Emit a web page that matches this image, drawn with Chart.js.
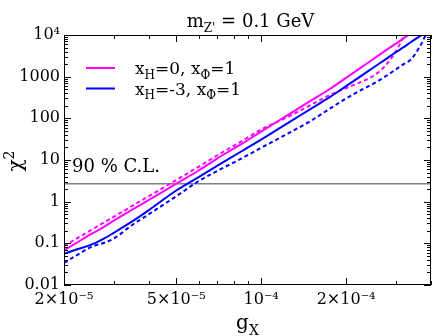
<!DOCTYPE html>
<html>
<head>
<meta charset="utf-8">
<script src="https://cdn.jsdelivr.net/npm/chart.js@4.4.1/dist/chart.umd.min.js"></script>
<style>
html,body{margin:0;padding:0;background:#fff}
</style>
</head>
<body>
<canvas id="chi2" width="436" height="336"></canvas>
<script>
// g_X values the curves were read at
const gx = [2e-5, 2.2e-5, 2.5e-5, 2.8e-5, 3e-5, 3.5e-5, 4e-5, 5e-5, 6e-5, 7e-5, 8.5e-5, 1e-4,
  1.25e-4, 1.5e-4, 1.75e-4, 2e-4, 2.25e-4, 2.5e-4, 2.75e-4, 3e-4, 3.2e-4, 3.4e-4, 3.6e-4, 3.8e-4, 4e-4]

// chi^2, x_H=0 x_Phi=1 (magenta) and x_H=-3 x_Phi=1 (blue); solid and dashed
const chiH0 = [0.068, 0.10, 0.168, 0.26, 0.35, 0.65, 1.1, 2.7, 5.6, 11, 24, 48,
  123, 265, 505, 935, 1620, 2660, 4160, 6200, 8300, 11200, 15000, 20000, 26000]
const chiH0dash = [0.086, 0.126, 0.21, 0.33, 0.43, 0.80, 1.36, 3.3, 6.9, 13, 28, 54,
  110, 210, 360, 530, 740, 1050, 1800, 4000, 9000, 16000, null, null, null]
const chiH3 = [0.056, 0.07, 0.093, 0.135, 0.178, 0.34, 0.63, 1.85, 3.9, 7.3, 16, 31,
  79, 169, 322, 593, 1020, 1660, 2560, 3850, 5100, 6800, 8800, 11300, 14500]
const chiH3dash = [0.034, 0.05, 0.082, 0.105, 0.13, 0.28, 0.5, 1.35, 3.1, 5.5, 10.8, 19.6,
  44, 87, 170, 300, 470, 680, 1000, 1490, 2000, 2600, 4500, 9000, 25000]

const clLevel = 2.71
const clText = "90 % C.L."
const titleText = "m_{Z'} = 0.1 GeV"
const legendText = ["x_H=0, x_Φ=1", "x_H=-3, x_Φ=1"]
const xTitle = "g_X"
const yTitle = "χ^2"

const xTickVals = [2e-5, 5e-5, 1e-4, 2e-4]
const xTickLabels = ["2×10⁻⁵", "5×10⁻⁵", "10⁻⁴", "2×10⁻⁴"]
const xMinor = [3e-5, 4e-5, 6e-5, 7e-5, 8e-5, 9e-5, 3e-4, 4e-4]
const yTickVals = [0.01, 0.1, 1, 10, 100, 1000, 1e4]
const yTickLabels = ["0.01", "0.1", "1", "10", "100", "1000", "10⁴"]

const MAG = "#ff00ff", BLU = "#0000ff"
const FONT = "'DejaVu Serif', 'Liberation Serif', serif"

function pts(arr){ return gx.map((g,i)=>({x:g, y:arr[i]})) }

function line(label, arr, color, dash){
  return {label, data: pts(arr), borderColor: color, backgroundColor: color, borderWidth: 2,
    borderDash: dash ? [4,3] : [], pointRadius: 0, cubicInterpolationMode: "monotone", fill: false}
}

// split "x_H=0" / "m_{Z'}" into runs of normal / sub / sup text
function runs(s){
  const out=[]; let i=0
  while(i<s.length){
    const c=s[i]
    if(c==="_"||c==="^"){
      let t
      if(s[i+1]==="{"){ const j=s.indexOf("}",i); t=s.slice(i+2,j); i=j+1 }
      else { t=s[i+1]; i+=2 }
      out.push({t, k:c})
    } else {
      let j=i; while(j<s.length && s[j]!=="_" && s[j]!=="^") j++
      out.push({t:s.slice(i,j), k:""}); i=j
    }
  }
  return out
}

function drawRich(ctx, s, x, y, size, align){
  const rs = runs(s)
  let w = 0
  rs.forEach(r=>{
    r.size = r.k ? Math.round(size*0.68) : size
    ctx.font = r.size+"px "+FONT
    r.w = ctx.measureText(r.t).width
    w += r.w
  })
  let cx = align==="center" ? x-w/2 : x
  ctx.textAlign = "left"
  rs.forEach(r=>{
    ctx.font = r.size+"px "+FONT
    const dy = r.k==="_" ? size*0.28 : r.k==="^" ? -size*0.42 : 0
    ctx.fillText(r.t, cx, y+dy)
    cx += r.w
  })
}

const isTick = (v, list) => list.findIndex(t => Math.abs(v/t-1) < 1e-6)

const decor = {
  id: "decor",
  afterDraw(chart){
    const ctx = chart.ctx, a = chart.chartArea
    const xs = chart.scales.x, ys = chart.scales.y
    ctx.save()
    ctx.strokeStyle = "#000"; ctx.lineWidth = 1
    ctx.strokeRect(a.left+0.5, a.top+0.5, a.right-a.left-1, a.bottom-a.top-1)

    // inward ticks on all four sides
    ctx.beginPath()
    const xt = (v,len)=>{ const p=Math.round(xs.getPixelForValue(v))+0.5
      ctx.moveTo(p,a.bottom); ctx.lineTo(p,a.bottom-len); ctx.moveTo(p,a.top); ctx.lineTo(p,a.top+len) }
    const yt = (v,len)=>{ const p=Math.round(ys.getPixelForValue(v))+0.5
      ctx.moveTo(a.left,p); ctx.lineTo(a.left+len,p); ctx.moveTo(a.right,p); ctx.lineTo(a.right-len,p) }
    xTickVals.forEach(v=>xt(v,7))
    xMinor.forEach(v=>xt(v,4))
    yTickVals.forEach(v=>yt(v,7))
    for(let d=0.01; d<1e4; d*=10) for(let k=2;k<=9;k++) yt(d*k,4)
    ctx.stroke()

    ctx.fillStyle = "#000"; ctx.textBaseline = "alphabetic"
    drawRich(ctx, titleText, (a.left+a.right)/2+3, 27, 18, "center")
    drawRich(ctx, clText, a.left+8, 172, 18, "left")
    drawRich(ctx, xTitle, (a.left+a.right)/2, 329, 20, "center")

    ctx.save()
    ctx.translate(22, 161); ctx.rotate(-Math.PI/2)
    drawRich(ctx, yTitle, 0, 0, 20, "center")
    ctx.restore()

    // legend
    const cols = [MAG, BLU]
    legendText.forEach((t,i)=>{
      const y = 68 + i*20.5
      ctx.strokeStyle = cols[i]; ctx.lineWidth = 2
      ctx.beginPath(); ctx.moveTo(86,y); ctx.lineTo(115,y); ctx.stroke()
      ctx.fillStyle = "#000"
      drawRich(ctx, t, 135, y+6, 17, "left")
    })
    ctx.restore()
  }
}

new Chart("chi2", {
  type: "line",
  data: {
    datasets: [
      line("x_H=0, x_Φ=1", chiH0, MAG, false),
      line("x_H=-3, x_Φ=1", chiH3, BLU, false),
      line("x_H=0 dashed", chiH0dash, MAG, true),
      line("x_H=-3 dashed", chiH3dash, BLU, true),
      {label: clText, data: [{x:gx[0], y:clLevel}, {x:gx[gx.length-1], y:clLevel}],
        borderColor: "#808080", borderWidth: 1.5, pointRadius: 0, order: 10}
    ]
  },
  options: {
    responsive: false,
    animation: false,
    layout: {padding: {top: 35, right: 5, left: 0, bottom: 0}},
    plugins: {legend: {display: false}, title: {display: false}, tooltip: {enabled: false}},
    scales: {
      x: {
        type: "logarithmic", min: 2e-5, max: 4e-4,
        grid: {display: false, drawTicks: false}, border: {display: false},
        afterBuildTicks: s => { s.ticks = xTickVals.map(v=>({value:v})) },
        afterFit: s => { s.height = 51 },
        ticks: {
          autoSkip: false, maxRotation: 0, padding: 5, color: "#000",
          font: {family: FONT, size: 16},
          callback: v => { const i = isTick(v, xTickVals); return i<0 ? "" : xTickLabels[i] }
        }
      },
      y: {
        type: "logarithmic", min: 0.01, max: 1e4,
        grid: {display: false, drawTicks: false}, border: {display: false},
        afterBuildTicks: s => { s.ticks = yTickVals.map(v=>({value:v})) },
        afterFit: s => { s.width = 64 },
        ticks: {
          padding: 4, color: "#000",
          font: {family: FONT, size: 16},
          callback: v => { const i = isTick(v, yTickVals); return i<0 ? "" : yTickLabels[i] }
        }
      }
    }
  },
  plugins: [decor]
})
</script>
</body>
</html>
